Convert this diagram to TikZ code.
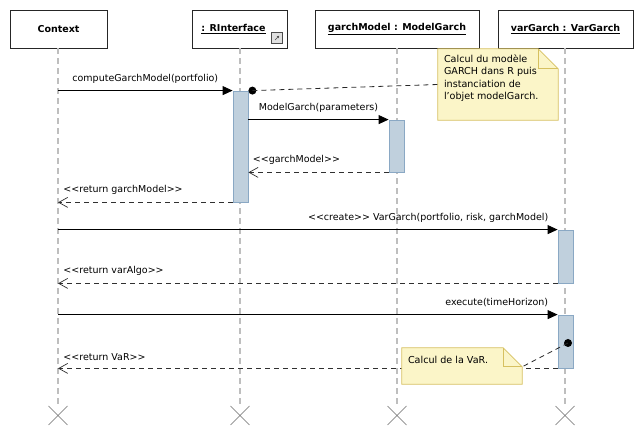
\documentclass[tikz,border=0pt]{standalone}
\usepackage{fontspec}
\setmainfont{DejaVu Sans}
\usetikzlibrary{arrows.meta,calc}
\definecolor{actfill}{HTML}{C0D0DD}
\definecolor{actedge}{HTML}{8AA8C4}
\definecolor{notefill}{HTML}{FBF5C8}
\definecolor{noteedge}{HTML}{D6C060}
\definecolor{lifegray}{HTML}{BEBEBE}
\definecolor{retgray}{HTML}{303030}
\definecolor{xgray}{HTML}{6A6A6A}
\begin{document}
\begin{tikzpicture}[x=1pt,y=-1pt,
  font=\fontsize{9.5}{11}\selectfont,
  lifebox/.style={draw=black!85, line width=0.8pt, fill=white, minimum height=38pt, inner sep=0pt, font=\fontsize{9.5}{11}\selectfont\bfseries},
  lifeline/.style={draw=lifegray, line width=1.3pt, dash pattern=on 6pt off 4pt},
  act/.style={draw=actedge, fill=actfill, line width=0.8pt, minimum width=15pt, inner sep=0pt},
  msg/.style={draw=black, line width=0.8pt, -{Triangle[length=10pt,width=9pt]}},
  ret/.style={draw=retgray, line width=0.9pt, dash pattern=on 5pt off 4pt, -{Straight Barb[length=9pt,width=10pt,line width=0.7pt]}},
  lbl/.style={inner sep=0pt, text=black},
  lblr/.style={lbl, anchor=south west, xshift=5pt, yshift=7pt},
  lbll/.style={lbl, anchor=south east, xshift=-9pt, yshift=7pt},
  notebody/.style={fill=notefill, draw=noteedge, line width=0.8pt},
  link/.style={draw=black!85, line width=0.8pt, dash pattern=on 5pt off 4pt},
  endx/.style={draw=xgray, line width=0.7pt},
  dot/.style={circle, fill=black, inner sep=0pt, minimum size=8pt}
]
\useasboundingbox (0,0) rectangle (641,430);

% participants
\node[lifebox, minimum width=97pt]  (ctx) at (58.5,29)  {Context};
\node[lifebox, minimum width=95pt]  (rif) at (239.5,29) {\underline{: RInterface}\hspace*{12pt}};
\node[lifebox, minimum width=164pt] (gm)  at (397,29)   {\underline{garchModel : ModelGarch}};
\node[lifebox, minimum width=135pt] (vg)  at (565.5,29) {\underline{varGarch : VarGarch}};

% small link icon of the interface box
\node[draw=black!70, fill=black!12, line width=0.8pt, minimum size=11pt, inner sep=0pt] (icon) at (277,38) {};
\draw[black!70, line width=0.7pt, -{Triangle[length=2.2pt,width=2.4pt]}] ($(icon.center)+(-2,2)$) -- ($(icon.center)+(2.2,-2.2)$);

% lifeline ends
\coordinate (ctxend) at (58,406);
\coordinate (rifend) at (240,406);
\coordinate (gmend)  at (397,406);
\coordinate (vgend)  at (565,406);
\draw[lifeline] (ctx.south -| ctxend) -- (ctxend);
\draw[lifeline] (rif.south -| rifend) -- (rifend);
\draw[lifeline] (gm.south -| gmend)   -- (gmend);
\draw[lifeline] (vg.south -| vgend)   -- (vgend);
\foreach \e in {ctxend,rifend,gmend,vgend}{
  \draw[endx] ($(\e)+(-9.5,0)$) -- ($(\e)+(9.5,19)$);
  \draw[endx] ($(\e)+(9.5,0)$) -- ($(\e)+(-9.5,19)$);
}

% activations
\node[act, minimum height=111pt] (a1) at (240.5,146.5) {};
\node[act, minimum height=52pt]  (a2) at (396.5,146)   {};
\node[act, minimum height=53pt]  (a3) at (565.5,256.5) {};
\node[act, minimum height=53pt]  (a4) at (565.5,341.5) {};

% messages
\draw[msg] (ctxend |- a1.north) -- node[lbl, above=7pt] {computeGarchModel(portfolio)} (a1.north west);
\draw[msg] (a1.east |- a2.north) -- node[lbl, above=7pt] {ModelGarch(parameters)} (a2.north west);
\draw[ret] (a2.south west) -- (a1.east |- a2.south)
  node[lblr, pos=1, xshift=-1pt] {<{}<garchModel>{}>};
\draw[ret] (a1.south west) -- (ctxend |- a1.south)
  node[lblr, pos=1] {<{}<return garchModel>{}>};
\draw[msg] (ctxend |- a3.north) -- (a3.north west)
  node[lbll, pos=1] {<{}<create>{}> VarGarch(portfolio, risk, garchModel)};
\draw[ret] (a3.south west) -- (ctxend |- a3.south)
  node[lblr, pos=1] {<{}<return varAlgo>{}>};
\draw[msg] (ctxend |- a4.north) -- (a4.north west)
  node[lbll, pos=1] {execute(timeHorizon)};
\draw[ret] (a4.south west) -- (ctxend |- a4.south)
  node[lblr, pos=1] {<{}<return VaR>{}>};

% note on the model computation
\node[minimum width=120pt, minimum height=71pt, inner sep=0pt] (note1) at (498,84.5) {};
\draw[notebody] (note1.north west) -- ($(note1.north east)+(-20,0)$) -- ($(note1.north east)+(0,20)$)
  -- (note1.south east) -- (note1.south west) -- cycle;
\draw[noteedge, line width=0.7pt] ($(note1.north east)+(-20,0)$) |- ($(note1.north east)+(0,20)$);
\node[lbl, anchor=north west, align=left, font=\fontsize{9.6}{12.5}\selectfont] (note1txt) at ($(note1.north west)+(6,5.5)$)
  {Calcul du modèle\\GARCH dans R puis\\instanciation de\\l'objet modelGarch.};
\node[dot] (dot1) at ($(a1.north east)+(4,0)$) {};
\draw[link] (dot1.center) -- (note1.west);

% note on the VaR computation
\node[minimum width=120pt, minimum height=36pt, inner sep=0pt] (note2) at (462,366) {};
\draw[notebody] (note2.north west) -- ($(note2.north east)+(-19,0)$) -- ($(note2.north east)+(0,19)$)
  -- (note2.south east) -- (note2.south west) -- cycle;
\draw[noteedge, line width=0.7pt] ($(note2.north east)+(-19,0)$) |- ($(note2.north east)+(0,19)$);
\node[lbl, anchor=west, font=\fontsize{9.6}{12}\selectfont] (note2txt) at ($(note2.north west)+(6,12)$) {Calcul de la VaR.};
\node[dot] (dot2) at ($(a4.center)+(2.5,1.5)$) {};
\draw[link] (dot2.center) -- ($(note2.north east)+(0,19)$);
\end{tikzpicture}
\end{document}
